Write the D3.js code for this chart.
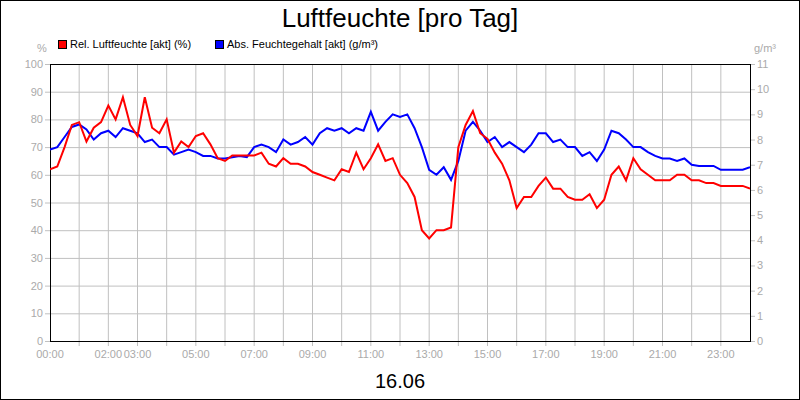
<!DOCTYPE html>
<html><head><meta charset="utf-8">
<script src="https://cdn.jsdelivr.net/npm/d3@7"></script>
<style>body{margin:0}svg{display:block;font-family:"Liberation Sans",Arial,sans-serif}</style>
</head><body><svg id="chart"></svg>
<script>
// values every 15 minutes, 00:00 .. 24:00
const relHumidity = [62,63,70,78,79,72,77,79,85,80,88,78,74,88,77,75,80,68,72,70,74,75,71,66,65,67,67,67,67,68,64,63,66,64,64,63,61,60,59,58,62,61,68,62,66,71,65,66,60,57,52,40,37,40,40,41,70,78,83,75,73,68,64,58,48,52,52,56,59,55,55,52,51,51,53,48,51,60,63,58,66,62,60,58,58,58,60,60,58,58,57,57,56,56,56,56,55];
const absHumidity = [7.6,7.7,8.1,8.5,8.6,8.4,8.0,8.25,8.35,8.1,8.45,8.35,8.25,7.9,8.0,7.7,7.7,7.4,7.5,7.6,7.5,7.35,7.35,7.25,7.25,7.3,7.35,7.3,7.7,7.8,7.7,7.5,8.0,7.8,7.9,8.1,7.8,8.25,8.45,8.35,8.45,8.25,8.45,8.35,9.1,8.35,8.7,9.0,8.9,9.0,8.45,7.7,6.8,6.6,6.9,6.4,7.15,8.35,8.7,8.35,7.9,8.1,7.7,7.9,7.7,7.5,7.8,8.25,8.25,7.9,8.0,7.7,7.7,7.35,7.5,7.15,7.6,8.35,8.25,8.0,7.7,7.7,7.5,7.35,7.25,7.25,7.15,7.25,7.0,6.95,6.95,6.95,6.8,6.8,6.8,6.8,6.9];
const hourLabels = ["00:00","02:00","03:00","05:00","07:00","09:00","11:00","13:00","15:00","17:00","19:00","21:00","23:00"];
const labelHours = [0,2,3,5,7,9,11,13,15,17,19,21,23];
const leftTicks = d3.range(0, 101, 10);
const rightTicks = d3.range(0, 12, 1);

const W = 800, H = 400;
const svg = d3.select("#chart").attr("width", W).attr("height", H);
svg.append("rect").attr("x", 0.5).attr("y", 0.5).attr("width", W - 1).attr("height", H - 1)
  .attr("fill", "#fff").attr("stroke", "#000");

const x = d3.scaleLinear().domain([0, 24]).range([50, 750]);
const yL = d3.scaleLinear().domain([0, 100]).range([341, 64]);
const yR = d3.scaleLinear().domain([0, 11]).range([341, 64]);
const grey = "#c0c0c0";

// grid
svg.append("g").selectAll("line").data(d3.range(1, 24)).join("line")
  .attr("x1", d => x(d)).attr("x2", d => x(d)).attr("y1", 64).attr("y2", 346)
  .attr("stroke", grey);
svg.append("g").selectAll("line").data(leftTicks.slice(1, -1)).join("line")
  .attr("x1", 50).attr("x2", 750).attr("y1", d => yL(d) + 0.5).attr("y2", d => yL(d) + 0.5)
  .attr("stroke", grey);

// left axis labels
svg.append("g").selectAll("text").data(leftTicks).join("text")
  .attr("x", 43).attr("y", d => yL(d) + 4).attr("text-anchor", "end")
  .attr("font-size", 11).attr("fill", "#aaa").text(d => d);
svg.append("g").selectAll("line").data(leftTicks).join("line")
  .attr("x1", 45).attr("x2", 50).attr("y1", d => yL(d) + 0.5).attr("y2", d => yL(d) + 0.5).attr("stroke", grey);
// right axis labels
svg.append("g").selectAll("text").data(rightTicks).join("text")
  .attr("x", 757).attr("y", d => yR(d) + 4).attr("text-anchor", "start")
  .attr("font-size", 11).attr("fill", "#aaa").text(d => d);
svg.append("g").selectAll("line").data(rightTicks).join("line")
  .attr("x1", 750).attr("x2", 755).attr("y1", d => yR(d) + 0.5).attr("y2", d => yR(d) + 0.5).attr("stroke", grey);

// x labels
svg.append("g").selectAll("text").data(labelHours).join("text")
  .attr("x", d => x(d)).attr("y", 358).attr("text-anchor", "middle")
  .attr("font-size", 11).attr("fill", "#aaa").text((d, i) => hourLabels[i]);

svg.append("text").attr("x", 42).attr("y", 52).attr("text-anchor", "middle")
  .attr("font-size", 11).attr("fill", "#aaa").text("%");
svg.append("text").attr("x", 765).attr("y", 52).attr("text-anchor", "middle")
  .attr("font-size", 11).attr("fill", "#aaa").text("g/m³");

// frame
svg.append("rect").attr("x", 50.5).attr("y", 64.5).attr("width", 700).attr("height", 277)
  .attr("fill", "none").attr("stroke", "#000");

// series
const clip = svg.append("clipPath").attr("id", "c").append("rect")
  .attr("x", 50).attr("y", 64).attr("width", 700).attr("height", 277);
const hours = i => i * 0.25;
svg.append("path").datum(absHumidity).attr("clip-path", "url(#c)")
  .attr("d", d3.line().x((d, i) => x(hours(i))).y(d => yR(d)))
  .attr("fill", "none").attr("stroke", "#0000ff").attr("stroke-width", 2);
svg.append("path").datum(relHumidity).attr("clip-path", "url(#c)")
  .attr("d", d3.line().x((d, i) => x(hours(i))).y(d => yL(d)))
  .attr("fill", "none").attr("stroke", "#ff0000").attr("stroke-width", 2);

// title, legend, date
svg.append("text").attr("x", 400).attr("y", 27).attr("text-anchor", "middle")
  .attr("font-size", 26).text("Luftfeuchte [pro Tag]");
const legend = [["Rel. Luftfeuchte [akt] (%)", "#ff0000", 58], ["Abs. Feuchtegehalt [akt] (g/m³)", "#0000ff", 215]];
legend.forEach(([t, c, lx]) => {
  svg.append("rect").attr("x", lx + 0.5).attr("y", 40.5).attr("width", 8).attr("height", 8)
    .attr("fill", c).attr("stroke", "#000");
  svg.append("text").attr("x", lx + 12).attr("y", 48).attr("font-size", 11).text(t);
});
svg.append("text").attr("x", 400).attr("y", 388).attr("text-anchor", "middle")
  .attr("font-size", 20).text("16.06");
</script></body></html>
